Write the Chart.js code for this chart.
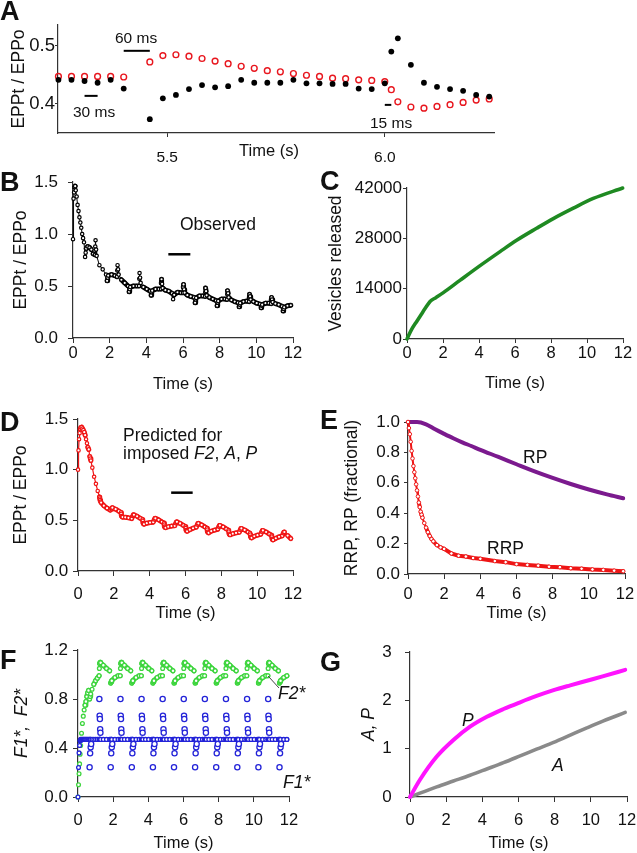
<!DOCTYPE html>
<html><head><meta charset="utf-8">
<script src="https://cdn.jsdelivr.net/npm/chart.js@4.4.1/dist/chart.umd.min.js"></script>
<style>
html,body{margin:0;padding:0;background:#fff;}
#wrap{position:relative;width:637px;height:853px;overflow:hidden;font-family:Arial,"Liberation Sans",sans-serif;color:#111;}
#wrap canvas{position:absolute;left:0;top:0;}
.t{position:absolute;white-space:nowrap;line-height:1;}
</style></head><body><div id="wrap">
<canvas id="cA" width="637" height="853"></canvas>
<canvas id="cB" width="637" height="853"></canvas>
<canvas id="cC" width="637" height="853"></canvas>
<canvas id="cD" width="637" height="853"></canvas>
<canvas id="cE" width="637" height="853"></canvas>
<canvas id="cF" width="637" height="853"></canvas>
<canvas id="cG" width="637" height="853"></canvas>
</div>
<script>
// ---------- DATA ----------
// Panel A (zoom 5.25-6.25 s)
const tA    = [5.25,5.28,5.31,5.34,5.37,5.40,5.46,5.49,5.52,5.55,5.58,5.61,5.64,5.67,5.70,5.73,5.76,5.79,5.82,5.85,5.88,5.91,5.94,5.97,6.00,6.015,6.03,6.06,6.09,6.12,6.15,6.18,6.21,6.24];
const obsA  = [0.441,0.441,0.439,0.436,0.441,0.426,0.373,0.409,0.415,0.425,0.432,0.428,0.430,0.441,0.436,0.436,0.436,0.441,0.435,0.435,0.434,0.434,0.426,0.425,0.435,0.490,0.513,0.467,0.436,0.429,0.425,0.422,0.415,0.412];
const predA = [0.447,0.447,0.447,0.447,0.447,0.446,0.472,0.483,0.4845,0.482,0.478,0.4735,0.469,0.4645,0.461,0.457,0.455,0.452,0.449,0.447,0.444,0.443,0.441,0.440,0.438,0.424,0.403,0.394,0.392,0.395,0.398,0.402,0.406,0.408];

// shared time grid for panels B, D, F (s)
const tGrid = [0,0.03,0.06,0.09,0.12,0.15,0.2,0.25,0.3,0.35,0.4,0.45,0.5,0.55,0.6,0.66,0.69,0.72,0.8,0.9,1.0,1.1,
 1.2,1.215,1.23,1.26,1.29,1.44,1.62,1.8,1.86,1.89,1.92,2.1,2.28,
 2.4,2.415,2.43,2.46,2.49,2.64,2.82,3.0,3.06,3.09,3.12,3.3,3.48,
 3.6,3.615,3.63,3.66,3.69,3.84,4.02,4.2,4.26,4.29,4.32,4.5,4.68,
 4.8,4.815,4.83,4.86,4.89,5.04,5.22,5.4,5.46,5.49,5.52,5.7,5.88,
 6.0,6.015,6.03,6.06,6.09,6.24,6.42,6.6,6.66,6.69,6.72,6.9,7.08,
 7.2,7.215,7.23,7.26,7.29,7.44,7.62,7.8,7.86,7.89,7.92,8.1,8.28,
 8.4,8.415,8.43,8.46,8.49,8.64,8.82,9.0,9.06,9.09,9.12,9.3,9.48,
 9.6,9.615,9.63,9.66,9.69,9.84,10.02,10.2,10.26,10.29,10.32,10.5,10.68,
 10.8,10.815,10.83,10.86,10.89,11.04,11.22,11.4,11.46,11.49,11.52,11.7,11.88];

// Panel B observed EPPt/EPPo
const obsB = [0.95,1.34,1.40,1.45,1.46,1.42,1.36,1.28,1.22,1.16,1.11,1.06,1.00,0.96,0.92,0.78,0.82,0.86,0.88,0.87,0.85,0.81,
 0.80,0.88,0.94,0.85,0.79,0.70,0.66,0.61,0.55,0.58,0.60,0.61,0.60,
 0.59,0.65,0.70,0.66,0.61,0.56,0.53,0.50,0.445,0.47,0.49,0.50,0.50,
 0.50,0.57,0.625,0.58,0.53,0.49,0.47,0.45,0.41,0.44,0.455,0.47,0.47,
 0.47,0.53,0.565,0.52,0.48,0.46,0.45,0.43,0.373,0.41,0.415,0.44,0.435,
 0.435,0.49,0.515,0.467,0.436,0.412,0.40,0.39,0.34,0.37,0.385,0.405,0.405,
 0.40,0.44,0.48,0.45,0.41,0.39,0.375,0.36,0.31,0.34,0.355,0.375,0.375,
 0.37,0.42,0.455,0.43,0.39,0.365,0.35,0.34,0.30,0.32,0.335,0.35,0.355,
 0.35,0.39,0.42,0.40,0.37,0.35,0.335,0.325,0.29,0.31,0.32,0.335,0.335,
 0.33,0.37,0.39,0.37,0.345,0.33,0.32,0.305,0.26,0.28,0.295,0.31,0.315];

// Panel D predicted EPPt/EPPo
const predD = [1.00,1.19,1.30,1.36,1.40,1.415,1.42,1.405,1.39,1.37,1.34,1.30,1.26,1.22,1.20,1.13,1.11,1.09,1.02,0.93,0.86,0.79,
 0.73,0.715,0.70,0.685,0.675,0.645,0.62,0.60,0.61,0.62,0.625,0.61,0.59,
 0.578,0.564,0.543,0.534,0.532,0.53,0.525,0.517,0.543,0.554,0.555,0.54,0.52,
 0.508,0.494,0.473,0.464,0.462,0.472,0.478,0.482,0.508,0.519,0.52,0.505,0.485,
 0.473,0.459,0.438,0.429,0.427,0.437,0.443,0.446,0.472,0.483,0.485,0.469,0.45,
 0.438,0.424,0.403,0.394,0.392,0.408,0.422,0.432,0.458,0.469,0.47,0.455,0.435,
 0.423,0.409,0.388,0.379,0.377,0.393,0.403,0.412,0.438,0.449,0.45,0.435,0.415,
 0.403,0.389,0.368,0.359,0.357,0.368,0.376,0.382,0.408,0.419,0.42,0.405,0.385,
 0.373,0.359,0.338,0.329,0.327,0.343,0.354,0.362,0.388,0.399,0.40,0.385,0.365,
 0.353,0.339,0.318,0.309,0.307,0.323,0.337,0.347,0.373,0.384,0.385,0.35,0.32];

// Panel F
const f2Star = [0.0,0.10,0.19,0.27,0.35,0.42,0.52,0.60,0.66,0.71,0.75,0.78,0.82,0.85,0.87,0.80,0.82,0.84,0.88,0.92,0.95,0.97,
 0.99,1.05,1.09,1.10,1.095,1.075,1.05,1.03,0.93,0.94,0.95,0.975,0.99,
 0.99,1.05,1.09,1.10,1.095,1.075,1.05,1.03,0.93,0.94,0.95,0.975,0.99,
 0.99,1.05,1.09,1.10,1.095,1.075,1.05,1.03,0.93,0.94,0.95,0.975,0.99,
 0.99,1.05,1.09,1.10,1.095,1.075,1.05,1.03,0.93,0.94,0.95,0.975,0.99,
 0.99,1.05,1.09,1.10,1.095,1.075,1.05,1.03,0.93,0.94,0.95,0.975,0.99,
 0.99,1.05,1.09,1.10,1.095,1.075,1.05,1.03,0.93,0.94,0.95,0.975,0.99,
 0.99,1.05,1.09,1.10,1.095,1.075,1.05,1.03,0.93,0.94,0.95,0.975,0.99,
 0.99,1.05,1.09,1.10,1.095,1.075,1.05,1.03,0.93,0.94,0.95,0.975,0.99,
 0.99,1.05,1.09,1.10,1.095,1.075,1.05,1.03,0.93,0.94,0.95,0.975,0.99];
const f1Steady = [0.0,0.24,0.36,0.42,0.46,0.47,0.47,0.47,0.47,0.47,0.47,0.47,0.47,0.47,0.47,0.47,0.47,0.47,0.47,0.47,0.47,0.47,
 0.47,0.47,0.47,0.47,0.47,0.47,0.47,0.47,0.47,0.47,0.47,0.47,0.47,
 0.47,0.47,0.47,0.47,0.47,0.47,0.47,0.47,0.47,0.47,0.47,0.47,0.47,
 0.47,0.47,0.47,0.47,0.47,0.47,0.47,0.47,0.47,0.47,0.47,0.47,0.47,
 0.47,0.47,0.47,0.47,0.47,0.47,0.47,0.47,0.47,0.47,0.47,0.47,0.47,
 0.47,0.47,0.47,0.47,0.47,0.47,0.47,0.47,0.47,0.47,0.47,0.47,0.47,
 0.47,0.47,0.47,0.47,0.47,0.47,0.47,0.47,0.47,0.47,0.47,0.47,0.47,
 0.47,0.47,0.47,0.47,0.47,0.47,0.47,0.47,0.47,0.47,0.47,0.47,0.47,
 0.47,0.47,0.47,0.47,0.47,0.47,0.47,0.47,0.47,0.47,0.47,0.47,0.47,
 0.47,0.47,0.47,0.47,0.47,0.47,0.47,0.47,0.47,0.47,0.47,0.47,0.47];
const burstTimes = [1.2,2.4,3.6,4.8,6.0,7.2,8.4,9.6,10.8];
const burstOffsets = [0.015,0.03,0.045,0.06,0.075];
const f1BurstVals = [0.80,0.664,0.637,0.553,0.525];
const gapTimes = [0.66,1.86,3.06,4.26,5.46,6.66,7.86,9.06,10.26,11.46];
const gapOffsets = [0,0.03,0.06,0.09];
const f1GapVals = [0.243,0.357,0.406,0.433];

// Panel C
const tC = [0,0.25,0.54,0.8,1.05,1.28,1.6,2.02,2.94,4.06,5.17,6.09,7.2,8.13,9.24,10.35,11.98];
const vesicles = [0,2600,4890,6900,8800,10450,11500,12900,16300,20400,24300,27450,30800,33500,36400,39100,42000];

// Panel E
const tRRP = [0,0.05,0.1,0.15,0.2,0.25,0.3,0.35,0.4,0.45,0.5,0.55,0.6,0.65,0.7,0.75,0.8,0.9,1.0,1.1,1.2,1.3,1.4,1.6,1.8,2.0,2.4,2.8,3.2,3.6,4.0,4.8,5.4,6.0,6.6,7.2,7.8,8.4,9.0,9.6,10.2,10.8,11.4,11.9];
const rrp  = [1.0,0.96,0.92,0.87,0.81,0.76,0.71,0.67,0.63,0.59,0.55,0.51,0.47,0.44,0.41,0.39,0.37,0.335,0.305,0.275,0.25,0.23,0.215,0.19,0.175,0.165,0.135,0.12,0.115,0.105,0.10,0.085,0.078,0.065,0.06,0.055,0.048,0.045,0.038,0.035,0.03,0.027,0.022,0.018];
const tRP = [0,0.5,1,1.5,2,2.5,3,3.5,4,5,6,7,8,9,10,11,11.9];
const rp  = [1.0,1.0,0.985,0.952,0.922,0.893,0.866,0.842,0.817,0.77,0.722,0.675,0.632,0.592,0.556,0.524,0.498];

// Panel G
const tG = [0,0.55,1.48,2.4,3.32,4.25,5.17,6.09,7.0,7.94,8.86,9.78,10.7,11.9];
const pVals = [0,0.357,0.837,1.18,1.455,1.66,1.82,1.96,2.09,2.21,2.31,2.405,2.50,2.63];
const aVals = [0,0.08,0.21,0.33,0.45,0.58,0.71,0.85,0.99,1.13,1.28,1.43,1.575,1.75];

// scale bars / marks (data coords)
const marks = {
  cA: [{from:5.31,to:5.34,y:0.4133,w:2},{from:5.40,to:5.46,y:0.4913,w:2},{from:6.0,to:6.015,y:0.3977,w:2}],
  cB: [{from:5.2,to:6.4,y:0.805,w:2.5}],
  cD: [{from:5.2,to:6.4,y:0.773,w:2.5}],
  cF: [{from:10.81,to:11.43,y:0.988,y2:0.89,w:1,color:'#444'}]
};

// ---------- HELPERS ----------
const FONT = 'Arial, "Liberation Sans", sans-serif';
Chart.defaults.font.family = FONT;
const zip = (xs, ys) => xs.map((x,i)=>({x, y: ys[i]}));
const AX = '#333';

const marksPlugin = {
  id:'marks',
  afterDatasetsDraw(chart){
    const list = marks[chart.canvas.id]; if(!list) return;
    const {ctx, scales:{x,y}} = chart;
    ctx.save();
    list.forEach(b=>{
      ctx.strokeStyle = b.color || '#000'; ctx.lineWidth = b.w || 2;
      ctx.beginPath();
      ctx.moveTo(x.getPixelForValue(b.from), y.getPixelForValue(b.y));
      ctx.lineTo(x.getPixelForValue(b.to), y.getPixelForValue(b.y2 !== undefined ? b.y2 : b.y));
      ctx.stroke();
    });
    ctx.restore();
  }
};

function axis(o, horizontal){
  const s = {
    type:'linear', min:o.min, max:o.max,
    ticks:{stepSize:o.step, includeBounds:false, autoSkip:false, maxRotation:0, color:'#111',
      font:{family:FONT,size:o.fs||(horizontal?16.5:17)}, padding:o.pad, callback:o.cb || (v=>String(v))},
    grid:{display:true, drawOnChartArea:false, drawTicks:true, tickLength:o.tl, color:AX, lineWidth:1},
    border:{display:true, color:AX, width:1.2},
    title: o.title ? {display:true, text:o.title, color:'#111',
      font:{family:FONT,size:o.tfs||16.5, style:o.titalic?'italic':'normal'},
      padding: horizontal ? {top:0,bottom:o.tpad} : {top:o.tpad,bottom:0}} : {display:false}
  };
  if (horizontal) s.afterFit = sc => { sc.height = o.h; sc.paddingLeft = 0; sc.paddingRight = 0; };
  else s.afterFit = sc => { sc.width = o.w; sc.paddingTop = 0; sc.paddingBottom = 0; };
  return s;
}

function panel(id, area, xo, yo, datasets){
  const [l,t,r,b] = area;
  datasets.forEach(d=>{ if(d.clip===undefined) d.clip=false; });
  return new Chart(document.getElementById(id), {
    type:'scatter',
    data:{datasets},
    options:{
      responsive:false, animation:false, events:[],
      layout:{padding:{left:l-yo.w, top:t, right:637-r, bottom:853-b-xo.h}},
      plugins:{legend:{display:false}, tooltip:{enabled:false}},
      scales:{x:axis(xo,true), y:axis(yo,false)}
    },
    plugins:[marksPlugin]
  });
}
const f1 = v => v.toFixed(1);
const steep = (thr, wide, thin) => c => Math.abs(c.p1.parsed.y - c.p0.parsed.y) > thr ? thin : wide;
const hideSteep = (thr, color) => c => Math.abs(c.p1.parsed.y - c.p0.parsed.y) > thr ? 'rgba(0,0,0,0)' : color;

// ---------- PANELS ----------
panel('cA', [58,25,494,133],
  {min:5.249,max:6.251,step:0.5,h:40,tl:4,pad:11,fs:15.5,cb:f1},
  {min:0.349,max:0.536,step:0.1,w:58,tl:3,pad:0,fs:18.5,cb:f1,title:'EPPt / EPPo',tfs:17.5,tpad:8.5},
  [
    {data:zip(tA,predA), showLine:false, pointRadius:2.9, pointBorderWidth:1.4, pointBorderColor:'#e8161e', pointBackgroundColor:'rgba(0,0,0,0)', order:2},
    {data:zip(tA,obsA), showLine:false, pointRadius:2.9, pointBorderWidth:0, pointBorderColor:'#000', pointBackgroundColor:'#000', order:1}
  ]);

panel('cB', [73,182,293,338],
  {min:0,max:12,step:2,h:58,tl:5,pad:0.2,title:'Time (s)',tpad:2.1},
  {min:0,max:1.5,step:0.5,w:73,tl:5,pad:10,cb:f1,title:'EPPt / EPPo',tfs:17.5,tpad:11},
  [{data:zip(tGrid,obsB), showLine:true, borderColor:'#000', borderWidth:5, borderJoinStyle:'round', borderCapStyle:'round',
    segment:{borderWidth:steep(0.035,5,1)},
    pointRadius:1.7, pointBorderWidth:1.2, pointBorderColor:'#000', pointBackgroundColor:'#fff'}]);

panel('cC', [407,188,623,339],
  {min:0,max:12,step:2,h:58,tl:4,pad:0.7,title:'Time (s)',tpad:4.1},
  {min:0,max:42000,step:14000,w:90,tl:4,pad:1,title:'Vesicles released',tfs:17.5,tpad:8.5},
  [{data:zip(tC,vesicles), showLine:true, cubicInterpolationMode:'monotone', borderColor:'#1f8a22', borderWidth:3.6, pointRadius:0, borderJoinStyle:'round', borderCapStyle:'round'}]);

panel('cD', [78,419,293,571],
  {min:0,max:12,step:2,h:56,tl:5,pad:8.1,title:'Time (s)',tpad:4.1},
  {min:0,max:1.5,step:0.5,w:78,tl:5,pad:4.7,cb:f1,title:'EPPt / EPPo',tfs:17.5,tpad:11},
  [{data:zip(tGrid,predD), showLine:true, borderColor:'#f01414', borderWidth:5, borderJoinStyle:'round', borderCapStyle:'round',
    segment:{borderWidth:steep(0.035,5,1.2)},
    pointRadius:1.7, pointBorderWidth:1.2, pointBorderColor:'#f01414', pointBackgroundColor:'#fff'}]);

panel('cE', [408,422,625,574],
  {min:0,max:12,step:2,h:54,tl:5,pad:5.1,title:'Time (s)',tpad:5.1},
  {min:0,max:1,step:0.2,w:78,tl:4,pad:4,cb:f1,title:'RRP, RP (fractional)',tfs:17.5,tpad:11.5},
  [
    {data:zip(tRP,rp), showLine:true, cubicInterpolationMode:'monotone', borderColor:'#7b1a8e', borderWidth:4, pointRadius:0, borderJoinStyle:'round', borderCapStyle:'round', order:2},
    {data:zip(tRRP,rrp), showLine:true, borderColor:'#ee1515', borderWidth:4, borderJoinStyle:'round', borderCapStyle:'round',
      segment:{borderWidth:steep(0.03,4,2)},
      pointRadius:1.8, pointBorderWidth:1, pointBorderColor:'#ee1515', pointBackgroundColor:'#fff', order:1}
  ]);

const f1Events = [];
burstTimes.forEach(T => burstOffsets.forEach((o,i) => f1Events.push({x:T+o, y:f1BurstVals[i]})));
gapTimes.forEach(T => gapOffsets.forEach((o,i) => f1Events.push({x:T+o, y:f1GapVals[i]})));

panel('cF', [78,650,289,797],
  {min:0,max:12,step:2,h:56,tl:5,pad:8.1,title:'Time (s)',tpad:0.1},
  {min:0,max:1.2,step:0.4,w:78,tl:5,pad:5,cb:f1,title:'F1*,  F2*',titalic:true,tfs:17.5,tpad:12},
  [
    {data:zip(tGrid,f2Star), showLine:true, borderColor:'#3ed53e', borderWidth:5, borderJoinStyle:'round', borderCapStyle:'round',
      segment:{borderColor:hideSteep(0.035,'#3ed53e')},
      pointRadius:1.9, pointBorderWidth:1.3, pointBorderColor:'#3ed53e', pointBackgroundColor:'#fff', order:3},
    {data:zip(tGrid,f1Steady), showLine:true, borderColor:'#2323d8', borderWidth:5, borderJoinStyle:'round', borderCapStyle:'round',
      segment:{borderColor:hideSteep(0.03,'#2323d8')},
      pointRadius:1.9, pointBorderWidth:1.3, pointBorderColor:'#2323d8', pointBackgroundColor:'#fff', order:2},
    {data:f1Events, showLine:false, pointRadius:2.6, pointBorderWidth:1.3, pointBorderColor:'#2323d8', pointBackgroundColor:'#fff', order:1}
  ]);

panel('cG', [410,652,627,797],
  {min:0,max:12,step:2,h:56,tl:5,pad:8.1,title:'Time (s)',tpad:0.1},
  {min:0,max:3,step:1,w:80,tl:5,pad:13.3,title:'A, P',titalic:true,tfs:17.5,tpad:29},
  [
    {data:zip(tG,aVals), showLine:true, cubicInterpolationMode:'monotone', borderColor:'#8a8a8a', borderWidth:3.6, pointRadius:0, borderJoinStyle:'round', borderCapStyle:'round', order:2},
    {data:zip(tG,pVals), showLine:true, cubicInterpolationMode:'monotone', borderColor:'#ff14ff', borderWidth:4, pointRadius:0, borderJoinStyle:'round', borderCapStyle:'round', order:1}
  ]);

// ---------- TEXT LABELS ----------
function lab(html, x, base, size, opt){
  opt = opt || {};
  const d = document.createElement('div'); d.className = 't'; d.innerHTML = html;
  d.style.fontSize = size + 'px'; d.style.left = x + 'px'; d.style.top = (base - 0.8465*size) + 'px';
  if (opt.bold) d.style.fontWeight = 'bold';
  if (opt.italic) d.style.fontStyle = 'italic';
  if (opt.center) d.style.transform = 'translateX(-50%)';
  document.getElementById('wrap').appendChild(d);
}
// panel letters
lab('A', 0, 20.5, 27, {bold:true});
lab('B', 0, 191.5, 27, {bold:true});
lab('C', 320, 191, 27, {bold:true});
lab('D', 0, 432, 27, {bold:true});
lab('E', 320, 430, 27, {bold:true});
lab('F', 0, 670, 27, {bold:true});
lab('G', 320, 672, 27, {bold:true});
// panel A annotations
lab('60 ms', 115, 43.3, 15.5);
lab('30 ms', 73, 116.7, 15.5);
lab('15 ms', 370, 128.3, 15.5);
lab('Time (s)', 269, 155.5, 16.5, {center:true});
// B, D
lab('Observed', 180, 231, 17.5);
lab('Predicted for', 123, 441.5, 17.5);
lab('imposed <i>F2</i>, <i>A</i>, <i>P</i>', 123, 460, 17.5);
// E
lab('RP', 523, 464, 17.5);
lab('RRP', 487, 555, 17.5);
// F
lab('F2*', 278, 700, 17.5, {italic:true});
lab('F1*', 283, 789, 17.5, {italic:true});
// G
lab('P', 462, 727, 17.5, {italic:true});
lab('A', 552, 772, 17.5, {italic:true});
</script></body></html>
